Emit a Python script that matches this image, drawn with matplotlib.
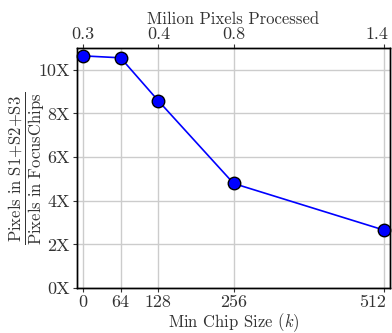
import matplotlib
matplotlib.use("Agg")
import matplotlib.pyplot as plt
from matplotlib.transforms import ScaledTranslation

chip_sizes = [0, 64, 128, 256, 512]
ratio = [10.64, 10.55, 8.58, 4.79, 2.65]
bottom_ticks = [0, 64, 128, 256, 512]
top_tick_pos = [0, 128, 256, 512]
top_tick_labels = ["0.3", "0.4", "0.8", "1.4"]
y_ticks = [0, 2, 4, 6, 8, 10]
y_tick_labels = ["0X", "2X", "4X", "6X", "8X", "10X"]

plt.rcParams["font.family"] = "serif"
plt.rcParams["font.serif"] = ["cmr10"]
plt.rcParams["mathtext.fontset"] = "cm"
plt.rcParams["axes.formatter.use_mathtext"] = True

txt = "#333333"
tfs = 13
lfs = 12
fig = plt.figure(figsize=(3.92, 3.33), dpi=100)
ax = fig.add_axes([77/392, 1-288/333, (390-77)/392, (288-48)/333])
ax.plot(chip_sizes, ratio, color="blue", lw=1.2, marker="o", ms=9,
        markerfacecolor="blue", markeredgecolor="black", markeredgewidth=1.0, zorder=3,
        clip_on=False)
ax.set_xlim(-10.2, 521.7)
ax.set_ylim(0, 11)
ax.set_xticks(bottom_ticks)
ax.set_xticklabels([str(t) for t in bottom_ticks])
ax.set_yticks(y_ticks)
ax.set_yticklabels(y_tick_labels)
ax.grid(True, color="#cccccc", lw=1.0, zorder=0)
ax.set_axisbelow(True)
ax.tick_params(labelsize=tfs, colors=txt, length=3, width=0.8, pad=2)
for s in ax.spines.values():
    s.set_color("black")
    s.set_linewidth(1.0)
ax.set_xlabel(r"Min Chip Size ($k$)", fontsize=lfs, color=txt, labelpad=1)
ax.set_ylabel(r"$\dfrac{\mathrm{Pixels\ in\ S1{+}S2{+}S3}}{\mathrm{Pixels\ in\ FocusChips}}$",
              fontsize=lfs, color=txt)
ax.yaxis.set_label_coords(-0.095, 0.5)

ax2 = ax.twiny()
ax2.set_xlim(ax.get_xlim())
ax2.set_xticks(top_tick_pos)
ax2.set_xticklabels(top_tick_labels)
ax2.tick_params(labelsize=tfs, colors=txt, length=3, width=0.8, pad=1)
ax2.set_xlabel("Milion Pixels Processed", fontsize=lfs, color=txt, labelpad=2)
for s in ax2.spines.values():
    s.set_color("black")
    s.set_linewidth(1.0)

# keep the rightmost tick labels inside the figure, as in the reference
lab = ax.get_xticklabels()[-1]
lab.set_ha("right")
lab.set_transform(lab.get_transform() + ScaledTranslation(2/100, 0, fig.dpi_scale_trans))
lab2 = ax2.get_xticklabels()[-1]
lab2.set_ha("right")
lab2.set_transform(lab2.get_transform() + ScaledTranslation(4/100, 0, fig.dpi_scale_trans))

fig.savefig("out.png", dpi=100)
